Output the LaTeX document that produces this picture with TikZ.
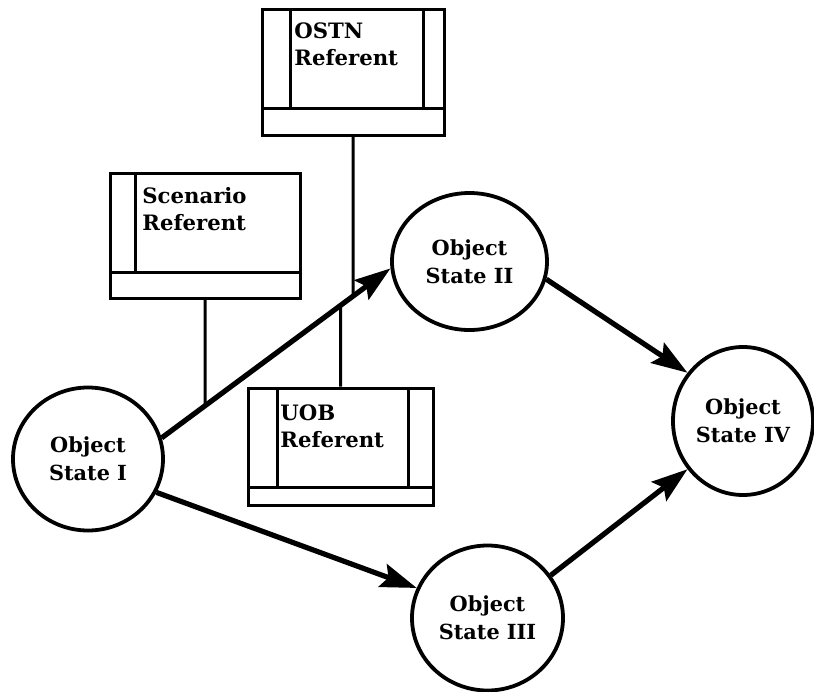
\documentclass[tikz,border=0pt]{standalone}
\usepackage{fontspec}
\setmainfont{DejaVu Serif}
\usetikzlibrary{arrows.meta,shapes.geometric,intersections}
\begin{document}
\begin{tikzpicture}[x=0.5pt,y=-0.5pt,
 state/.style={ellipse,draw,line width=1.9pt,inner sep=0pt,align=center,font=\bfseries\fontsize{10.4}{14}\selectfont},
 refbox/.style={rectangle,draw,line width=1.5pt,inner sep=0pt},
 reftext/.style={anchor=north west,inner sep=0pt,align=left,font=\bfseries\fontsize{10.6}{13.5}\selectfont},
 flow/.style={line width=2.6pt,-{Stealth[length=18pt,width=12pt,inset=3pt]}},
 link/.style={line width=1.5pt}]
\useasboundingbox (0,0) rectangle (814,691);

% referent boxes
\node[refbox,minimum width=91pt,minimum height=63pt] (ostn) at (353,72) {};
\draw[link] (290,9) -- (290,108) (423,9) -- (423,108) (262,108) -- (444,108);
\node[reftext] (ostnt) at (294,22) {OSTN\\Referent};

\node[refbox,minimum width=95pt,minimum height=62.5pt] (sc) at (205,235.5) {};
\draw[link] (135,173) -- (135,272) (110,272) -- (300,272);
\node[reftext] (sct) at (142,187) {Scenario\\Referent};

\node[refbox,minimum width=92.5pt,minimum height=58.5pt] (uob) at (340.5,446.5) {};
\draw[link] (277,388) -- (277,487) (408,388) -- (408,487) (248,487) -- (433,487);
\node[reftext] (uobt) at (280,404) {UOB\\Referent};

% states
\node[state,minimum width=75pt,minimum height=71.5pt] (s1) at (88,459) {Object\\State I};
\node[state,minimum width=77.5pt,minimum height=68.5pt] (s2) at (469.5,261.5) {Object\\State II};
\node[state,minimum width=75.5pt,minimum height=72.5pt] (s3) at (487.5,618) {Object\\State III};
\node[state,minimum width=70pt,minimum height=74pt] (s4) at (743,421) {Object\\State IV};

% connectors from referents to the first transition
\path[name path=arrA] (s1.16) -- (s2.185);
\path[name path=vsc] (sc.south) -- ++(0,250);
\path[name path=vos] (ostn.south) -- ++(0,300);
\path[name path=vuob] (uob.north) -- ++(0,-250);
\path[name intersections={of=arrA and vsc,by=xsc}];
\path[name intersections={of=arrA and vos,by=xos}];
\path[name intersections={of=arrA and vuob,by=xuob}];
\draw[link] (sc.south) -- (xsc);
\draw[link] (ostn.south) -- (xos);
\draw[link] (xuob) -- (uob.north);

% transitions
\draw[flow] (s1.16) -- (s2.185);
\draw[flow] (s1.-26) -- (s3.157);
\draw[flow] (s2.-13) -- (s4.139);
\draw[flow] (s3.34) -- (s4.221);
\end{tikzpicture}
\end{document}
